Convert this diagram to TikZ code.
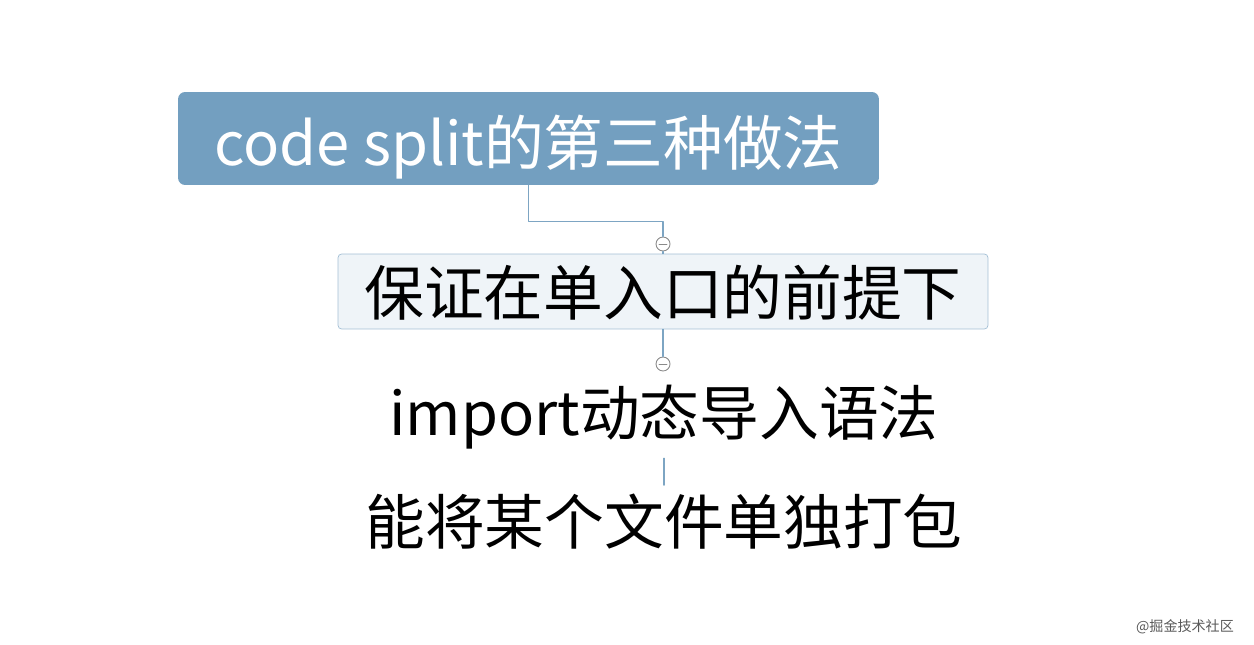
\documentclass[tikz,border=0pt]{standalone}
\usepackage{fontspec}
\setmainfont{Noto Sans CJK SC}
\usetikzlibrary{positioning}
\definecolor{topicblue}{HTML}{739FC0}
\definecolor{subfill}{HTML}{EFF4F8}
\definecolor{subline}{HTML}{A3BFD5}
\definecolor{linkblue}{HTML}{7DA5C3}
\definecolor{foldgray}{HTML}{8A8A8A}
\begin{document}
\begin{tikzpicture}[line cap=round, line join=round, x=0.02cm, y=-0.02cm,
    titlebox/.style={fill=topicblue, rounded corners=4pt, minimum width=14.02cm, minimum height=1.86cm, text=white, inner sep=0pt, text height=1.1cm, text depth=0pt, font=\fontsize{34}{40}\selectfont},
    subbox/.style={fill=subfill, draw=subline, rounded corners=2pt, minimum width=13cm, minimum height=1.5cm, inner sep=0pt, text height=0.98cm, text depth=0pt, font=\fontsize{34}{40}\selectfont},
    leaf/.style={inner sep=0pt, font=\fontsize{34}{40}\selectfont},
    fold/.style={circle, draw=foldgray, fill=white, minimum size=0.28cm, inner sep=0pt, line width=0.5pt},
    link/.style={draw=linkblue, line width=0.6pt}]

                \useasboundingbox (0,0) rectangle (1254,645);

                % topics
                \node[titlebox] (title) at (528.5,138.5) {code split的第三种做法};
                \node[subbox] (sub) at (663,291.5) {保证在单入口的前提下};
                \node[leaf] (imp) at (664,417) {import动态导入语法};
                \node[leaf] (pack) at (664,522) {能将某个文件单独打包};

                % collapse markers
                \node[fold] (fold1) at (663,244) {};
                \node[fold] (fold2) at (663,364) {};
                \draw[foldgray, line width=0.5pt] ([xshift=-0.08cm]fold1.center) -- ([xshift=0.08cm]fold1.center);
                \draw[foldgray, line width=0.5pt] ([xshift=-0.08cm]fold2.center) -- ([xshift=0.08cm]fold2.center);

                % connectors
                \draw[link] (title.south) -- ++(0,36) -| (fold1.north);
                \draw[link] (fold1.south) -- (sub.north);
                \draw[link] (sub.south) -- (fold2.north);
                \draw[link, shorten <=5pt, shorten >=5pt] (imp.south) -- (pack.north);

                % watermark
                \node[text=black!65, font=\fontsize{8}{9}\selectfont, anchor=east] (mark) at (1240,627) {@掘金技术社区};

\end{tikzpicture}
\end{document}
